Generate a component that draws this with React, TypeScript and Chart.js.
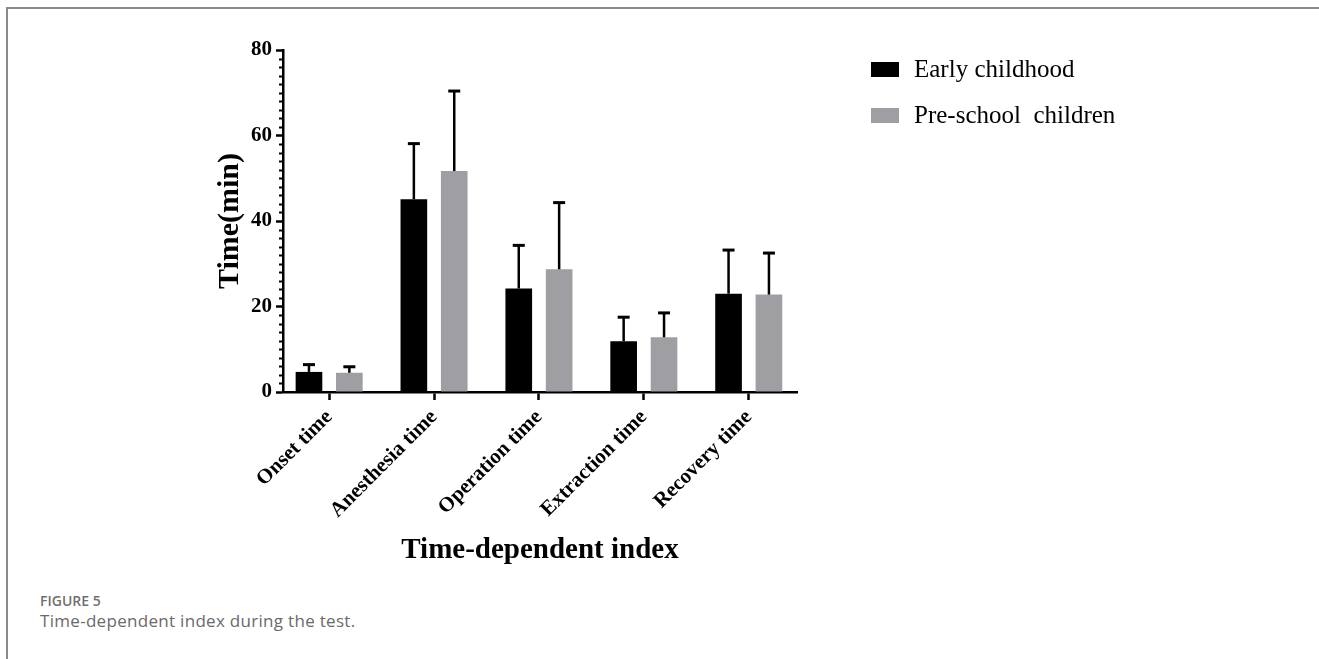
import React, { useEffect, useRef } from "react";
import { Chart, registerables } from "chart.js";

Chart.register(...registerables);

// ---- data ----
const categories = ["Onset time", "Anesthesia time", "Operation time", "Extraction time", "Recovery time"];
const seriesNames = ["Early childhood", "Pre-school  children"];
const earlyMean = [4.7, 45.1, 24.2, 11.9, 23.0];
const earlySD = [1.7, 13.0, 10.1, 5.6, 10.2];
const preMean = [4.5, 51.7, 28.7, 12.8, 22.8];
const preSD = [1.4, 18.7, 15.6, 5.7, 9.7];
const yTicks = [0, 20, 40, 60, 80];
const yMinorStep = 2;
const seriesColors = ["#000000", "#9f9fa3"];

const SERIF = "'Liberation Serif', 'Times New Roman', serif";

const errorBarsPlugin = {
  id: "errorBars",
  afterDatasetsDraw(chart: any) {
    const { ctx } = chart;
    const y = chart.scales.y;
    chart.data.datasets.forEach((ds: any, i: number) => {
      const meta = chart.getDatasetMeta(i);
      meta.data.forEach((bar: any, j: number) => {
        const top = y.getPixelForValue(ds.data[j].y + ds.errors[j]);
        ctx.save();
        ctx.strokeStyle = "#000";
        ctx.lineWidth = 2.5;
        ctx.beginPath();
        ctx.moveTo(bar.x, bar.y);
        ctx.lineTo(bar.x, top);
        ctx.stroke();
        ctx.lineWidth = 3;
        ctx.beginPath();
        ctx.moveTo(bar.x - 6, top);
        ctx.lineTo(bar.x + 6, top);
        ctx.stroke();
        ctx.restore();
      });
    });
  },
};

const minorTicksPlugin = {
  id: "minorTicks",
  afterDraw(chart: any) {
    const { ctx, chartArea } = chart;
    const y = chart.scales.y;
    ctx.save();
    ctx.strokeStyle = "#000";
    ctx.lineWidth = 2;
    for (let v = y.min; v <= y.max; v += yMinorStep) {
      if (yTicks.includes(v)) continue;
      const py = Math.round(y.getPixelForValue(v)) + 0.5;
      ctx.beginPath();
      ctx.moveTo(chartArea.left - 4, py);
      ctx.lineTo(chartArea.left, py);
      ctx.stroke();
    }
    ctx.restore();
  },
};

const legendPlugin = {
  id: "customLegend",
  afterDraw(chart: any) {
    const { ctx, chartArea } = chart;
    const x0 = chartArea.right + 74;
    const y0 = chartArea.top + 12;
    ctx.save();
    chart.data.datasets.forEach((ds: any, i: number) => {
      const top = y0 + i * 46;
      ctx.fillStyle = ds.backgroundColor;
      ctx.fillRect(x0, top, 28, 15);
      ctx.fillStyle = "#000";
      ctx.font = `25px ${SERIF}`;
      ctx.textBaseline = "middle";
      ctx.textAlign = "left";
      ctx.fillText(ds.label, x0 + 43, top + 8);
    });
    ctx.restore();
  },
};

export default function App() {
  const canvasRef = useRef<HTMLCanvasElement | null>(null);

  useEffect(() => {
    if (!canvasRef.current) return;
    const tickFont = { family: SERIF, size: 21, weight: "bold" as const };
    const titleFont = { family: SERIF, size: 29, weight: "bold" as const };
    const yTitleFont = { family: SERIF, size: 30, weight: "bold" as const };
    const toPoints = (vals: number[]) => vals.map((v, i) => ({ x: i, y: v }));
    const chart = new Chart(canvasRef.current, {
      type: "bar",
      data: {
        datasets: [
          {
            label: seriesNames[0],
            data: toPoints(earlyMean),
            errors: earlySD,
            backgroundColor: seriesColors[0],
            categoryPercentage: 0.77,
            barPercentage: 0.66,
          } as any,
          {
            label: seriesNames[1],
            data: toPoints(preMean),
            errors: preSD,
            backgroundColor: seriesColors[1],
            categoryPercentage: 0.77,
            barPercentage: 0.66,
          } as any,
        ],
      },
      options: {
        animation: false,
        responsive: false,
        layout: { padding: { left: 212, top: 50, right: 522, bottom: 22 } },
        plugins: {
          legend: { display: false },
          tooltip: { enabled: false },
        },
        scales: {
          x: {
            type: "linear",
            z: 1,
            offset: false,
            min: -0.44,
            max: categories.length - 1 + 0.46,
            afterBuildTicks(scale: any) {
              scale.ticks = categories.map((_, i) => ({ value: i }));
            },
            grid: { offset: false, drawOnChartArea: false, tickLength: 8, tickWidth: 2.5, color: "#000" },
            border: { display: true, width: 2.5, color: "#000" },
            ticks: {
              minRotation: 45,
              maxRotation: 45,
              autoSkip: false,
              font: tickFont,
              color: "#000",
              padding: 5,
              callback: (v: any) => categories[v] ?? "",
            },
            title: { display: true, text: "Time-dependent index", font: titleFont, color: "#000", padding: 0 },
            afterFit(scale: any) {
              scale.height = 176;
            },
          },
          y: {
            z: 1,
            min: yTicks[0],
            max: yTicks[yTicks.length - 1],
            afterBuildTicks(scale: any) {
              scale.ticks = yTicks.map((v) => ({ value: v }));
            },
            grid: { drawOnChartArea: false, tickLength: 7, tickWidth: 2.5, color: "#000" },
            border: { display: true, width: 2.5, color: "#000" },
            ticks: { font: tickFont, color: "#000", padding: 4 },
            title: { display: true, text: "Time(min)", font: yTitleFont, color: "#000", padding: 0 },
            afterFit(scale: any) {
              scale.width = 71;
            },
          },
        },
      } as any,
      plugins: [errorBarsPlugin, minorTicksPlugin, legendPlugin],
    });
    return () => chart.destroy();
  }, []);

  return (
    <div style={{ position: "absolute", left: 0, top: 0, width: 1319, height: 659, overflow: "hidden", background: "#fff" }}>
      <div
        style={{
          position: "absolute",
          left: 6,
          top: 7,
          width: 1330,
          height: 670,
          borderTop: "2px solid #8a8a8a",
          borderLeft: "2px solid #8a8a8a",
        }}
      />
      <canvas ref={canvasRef} width={1319} height={590} style={{ position: "absolute", left: 0, top: 0, width: 1319, height: 590 }} />
      <div
        style={{
          position: "absolute",
          left: 40,
          top: 591,
          fontFamily: "'Open Sans', sans-serif",
          fontWeight: 600,
          fontSize: 14,
          lineHeight: "19px",
          color: "#707070",
        }}
      >
        FIGURE 5
      </div>
      <div
        style={{
          position: "absolute",
          left: 40,
          top: 610,
          fontFamily: "'Open Sans', sans-serif",
          fontWeight: 400,
          fontSize: 17,
          letterSpacing: 0.3,
          lineHeight: "22px",
          color: "#6a6a6a",
        }}
      >
        Time-dependent index during the test.
      </div>
    </div>
  );
}
